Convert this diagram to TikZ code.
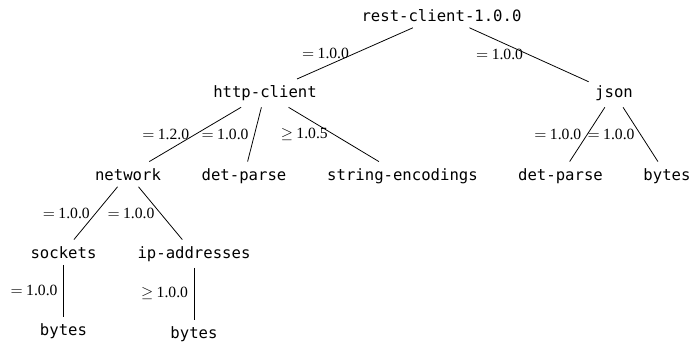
\documentclass[tikz,border=0pt]{standalone}
\usepackage{fontspec}
\setmainfont{Liberation Serif}
\newfontfamily\pkgmono{DejaVu Sans Mono}
\tikzset{
  pkg/.style={font=\pkgmono\fontsize{10}{12}\selectfont, inner sep=4pt, anchor=base},
  dep/.style={line width=0.5pt},
  lab/.style={midway, left, inner sep=3.6pt, font=\fontsize{10}{12}\selectfont}
}
\newcommand{\veq}[1]{$=$\kern2.2pt#1}
\newcommand{\vge}[1]{$\geq$\kern2.2pt#1}
\begin{document}
\begin{tikzpicture}[x=0.64pt,y=-0.64pt]
\useasboundingbox (0,0) rectangle (695,347);
\node[pkg] (root) at (441.5,21) {rest-client-1.0.0};
\node[pkg] (http) at (265,97.5) {http-client};
\node[pkg] (json) at (614,97.5) {json};
\node[pkg] (net) at (128,180) {network};
\node[pkg] (dp1) at (244,180) {det-parse};
\node[pkg] (se) at (402.5,180) {string-encodings};
\node[pkg] (dp2) at (560.5,180) {det-parse};
\node[pkg] (by1) at (667,180) {bytes};
\node[pkg] (sock) at (63.5,258) {sockets};
\node[pkg] (ip) at (194,258) {ip-addresses};
\node[pkg] (by2) at (63.5,335) {bytes};
\node[pkg] (by3) at (194,338) {bytes};
\draw[dep] (root) -- (http) node[lab] {\veq{1.0.0}};
\draw[dep] (root) -- (json) node[lab] {\veq{1.0.0}};
\draw[dep] (http) -- (net) node[lab] {\veq{1.2.0}};
\draw[dep] (http) -- (dp1) node[lab] {\veq{1.0.0}};
\draw[dep] (http) -- (se) node[lab] {\vge{1.0.5}};
\draw[dep] (json) -- (dp2) node[lab] {\veq{1.0.0}};
\draw[dep] (json) -- (by1) node[lab] {\veq{1.0.0}};
\draw[dep] (net) -- (sock) node[lab] {\veq{1.0.0}};
\draw[dep] (net) -- (ip) node[lab] {\veq{1.0.0}};
\draw[dep] (sock) -- (by2) node[lab] {\veq{1.0.0}};
\draw[dep] (ip) -- (by3) node[lab] {\vge{1.0.0}};
\end{tikzpicture}
\end{document}
